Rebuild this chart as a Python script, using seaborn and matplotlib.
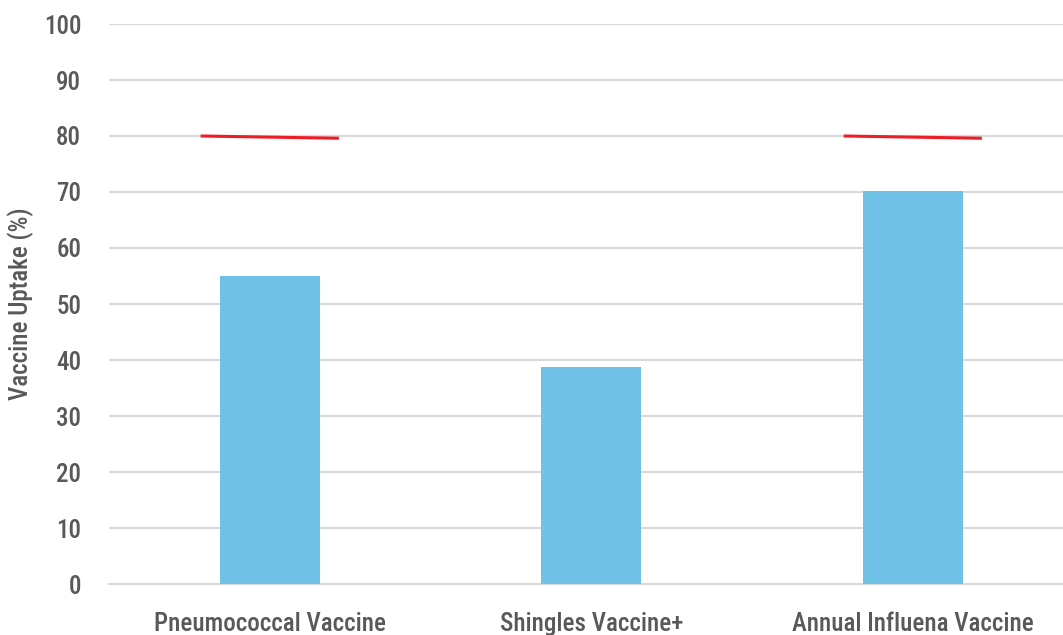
import matplotlib
matplotlib.use("Agg")
import matplotlib.pyplot as plt
import seaborn as sns
import pandas as pd
from matplotlib import font_manager

vaccines = ["Pneumococcal Vaccine", "Shingles Vaccine+", "Annual Influena Vaccine"]
uptake = [55.0, 38.8, 70.2]
target_start = [80.0, None, 80.0]
target_end = [79.6, None, 79.6]
y_ticks = [0, 10, 20, 30, 40, 50, 60, 70, 80, 90, 100]

sns.set_theme(style="white")
names = {f.name for f in font_manager.fontManager.ttflist}
family = [f for f in ["Liberation Sans Narrow", "Roboto Condensed", "Roboto", "DejaVu Sans"] if f in names]
plt.rcParams["font.family"] = family

text_color = "#595959"
grid_color = "#d9d9d9"

fig = plt.figure(figsize=(10.63, 6.35), dpi=100)
ax = fig.add_axes([109 / 1063, 51 / 635, 964.5 / 1063, (584 - 24) / 635])

df = pd.DataFrame({"vaccine": vaccines, "uptake": uptake})
sns.barplot(data=df, x="vaccine", y="uptake", color="#70c1e6", saturation=1,
            width=0.31, ax=ax, zorder=3, edgecolor="none")

for i, (s, e) in enumerate(zip(target_start, target_end)):
    if s is None:
        continue
    ax.plot([i - 0.215, i + 0.215], [s, e], color="#ee1c25", lw=2.2,
            solid_capstyle="butt", zorder=4)

ax.set_xlim(-0.5, 2.5)
ax.set_ylim(0, 100)
ax.set_yticks(y_ticks)
ax.yaxis.grid(True, color=grid_color, lw=1.5, zorder=0)
ax.set_axisbelow(True)
for sp in ["top", "right", "left"]:
    ax.spines[sp].set_visible(False)
ax.spines["bottom"].set_color(grid_color)
ax.spines["bottom"].set_linewidth(1.5)

ax.tick_params(axis="both", length=0, colors=text_color, labelsize=18)
ax.tick_params(axis="x", pad=20)
ax.tick_params(axis="y", pad=20)
for lbl in ax.get_xticklabels() + ax.get_yticklabels():
    lbl.set_fontweight("medium")
ax.set_xlabel("")
ax.set_ylabel("Vaccine Uptake (%)", color=text_color, fontsize=18,
              fontweight="medium", labelpad=7)

fig.savefig("out.png", dpi=100)
